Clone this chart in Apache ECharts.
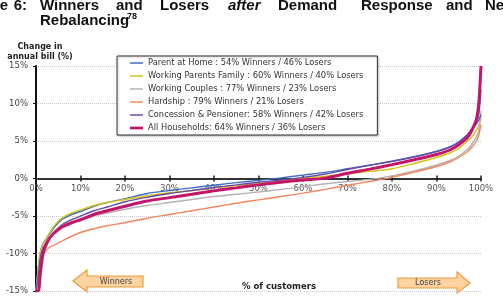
<!DOCTYPE html>
<html>
<head>
<meta charset="utf-8">
<style>
  html, body { margin: 0; padding: 0; background: #fff; }
  #chart { width: 503px; height: 297px; }
</style>
<script src="https://cdn.jsdelivr.net/npm/echarts@6/dist/echarts.min.js"></script>
</head>
<body>
<div id="chart"></div>
<script>
// % of customers (x positions of the sampled points)
const pct = [0, 0.5, 1, 1.5, 2, 3, 4, 5, 6, 8, 10, 13, 16, 20, 25, 30, 35, 40, 45, 50,
  55, 60, 65, 70, 75, 80, 85, 90, 93, 95, 97, 98, 99, 99.5, 100]

// change in annual bill (%) at each pct value
const parentAtHome = [-15, -12, -9.8, -8.8, -8.3, -7.4, -6.6, -5.9, -5.4, -4.8, -4.4, -3.7, -3.2, -2.7, -2.0, -1.6, -1.25, -0.9, -0.55, -0.25,
  0.08, 0.45, 0.82, 1.3, 1.8, 2.3, 2.9, 3.6, 4.2, 4.9, 5.9, 6.7, 7.6, 8.5, 11.9]
const workingParents = [-15, -12, -9.8, -8.9, -8.3, -7.3, -6.4, -5.7, -5.2, -4.6, -4.2, -3.6, -3.2, -2.8, -2.3, -1.9, -1.6, -1.25, -0.95, -0.65,
  -0.32, 0, 0.3, 0.62, 0.95, 1.3, 2.0, 2.8, 3.4, 4.0, 5.0, 5.6, 6.5, 7.0, 8.0]
const workingCouples = [-15, -13, -11, -9.6, -9.0, -8.0, -7.4, -7.0, -6.6, -6.0, -5.6, -5.0, -4.6, -4.1, -3.6, -3.2, -2.8, -2.4, -2.1, -1.8,
  -1.45, -1.1, -0.7, -0.4, -0.12, 0.35, 1.0, 1.8, 2.4, 3.0, 3.9, 4.6, 5.6, 6.5, 9.0]
const hardship = [-15, -13.5, -11.5, -10.3, -9.8, -9.2, -8.9, -8.6, -8.3, -7.7, -7.2, -6.7, -6.3, -5.9, -5.3, -4.8, -4.3, -3.8, -3.3, -2.85,
  -2.4, -1.95, -1.45, -0.9, -0.4, 0.15, 0.85, 1.6, 2.2, 2.8, 3.6, 4.2, 5.0, 5.8, 7.2]
const concession = [-15, -13, -10.5, -9.4, -8.8, -7.9, -7.2, -6.6, -6.1, -5.5, -5.0, -4.3, -3.8, -3.1, -2.5, -2.0, -1.6, -1.2, -0.85, -0.5,
  -0.2, 0.15, 0.6, 1.2, 1.75, 2.3, 2.9, 3.6, 4.2, 4.8, 5.8, 6.6, 7.3, 7.8, 8.5]
const allHouseholds = [-15, -15, -12.5, -10.3, -9.2, -8.0, -7.3, -6.8, -6.4, -5.9, -5.5, -4.8, -4.3, -3.7, -3.0, -2.55, -2.1, -1.65, -1.25, -0.85,
  -0.5, -0.2, 0.05, 0.7, 1.25, 1.85, 2.5, 3.2, 3.8, 4.5, 5.5, 6.5, 8.0, 10.0, 15.0]

const yTicks = [-15, -10, -5, 0, 5, 10, 15]
const xTicks = [0, 10, 20, 30, 40, 50, 60, 70, 80, 90, 100]

const seriesNames = [
  'Parent at Home : 54% Winners / 46% Losers',
  'Working Parents Family : 60% Winners / 40% Losers',
  'Working Couples : 77% Winners / 23% Losers',
  'Hardship : 79% Winners / 21% Losers',
  'Concession & Pensioner: 58% Winners / 42% Losers',
  'All Households: 64% Winners / 36% Losers'
]
const seriesValues = [parentAtHome, workingParents, workingCouples, hardship, concession, allHouseholds]
const seriesColors = ['#3d6cc4', '#d2c414', '#b4b4b4', '#f5855c', '#6a4aa8', '#c4156a']

const sans = 'DejaVu Sans'
const titleFont = 'Liberation Sans'

let myChart = echarts.init(document.getElementById('chart'))

// title line 1 is justified, so each word sits at its own x
const titleWords = [
  { t: 'Figure', x: 8, align: 'right' },
  { t: '6:', x: 27, align: 'right' },
  { t: 'Winners', x: 40 },
  { t: 'and', x: 116 },
  { t: 'Losers', x: 160 },
  { t: 'after', x: 228, italic: true },
  { t: 'Demand', x: 278 },
  { t: 'Response', x: 361 },
  { t: 'and', x: 446 },
  { t: 'Network', x: 485 }
]

let graphics = titleWords.map(w => ({
  type: 'text',
  x: w.x,
  y: 13,
  style: {
    text: w.t,
    font: (w.italic ? 'italic ' : '') + 'bold 15px "' + titleFont + '"',
    fill: '#111',
    align: w.align || 'left',
    verticalAlign: 'bottom'
  }
}))

graphics.push(
  {
    type: 'text', x: 40, y: 28,
    style: { text: 'Rebalancing', font: 'bold 15px "' + titleFont + '"', fill: '#111', verticalAlign: 'bottom' }
  },
  {
    type: 'text', x: 127, y: 21,
    style: { text: '78', font: 'bold 9px "' + titleFont + '"', fill: '#111', verticalAlign: 'bottom' }
  },
  {
    type: 'text', x: 40, y: 42,
    style: { text: 'Change in\nannual bill (%)', font: 'bold 8px "' + sans + '"', fill: '#222', align: 'center', lineHeight: 10 }
  },
  {
    type: 'text', x: 279, y: 287,
    style: { text: '% of customers', font: 'bold 8.5px "' + sans + '"', fill: '#222', align: 'center', verticalAlign: 'middle' }
  },
  // winners arrow (left)
  {
    type: 'polygon',
    shape: { points: [[73, 281], [87, 270], [87, 276], [143, 276], [143, 287], [87, 287], [87, 292]] },
    style: { fill: '#fdd3a2', stroke: '#f09a3a', lineWidth: 1.2 }
  },
  {
    type: 'text', x: 116, y: 281.5,
    style: { text: 'Winners', font: '8px "' + sans + '"', fill: '#444', align: 'center', verticalAlign: 'middle' }
  },
  // losers arrow (right)
  {
    type: 'polygon',
    shape: { points: [[470, 283], [457, 272], [457, 278], [398, 278], [398, 288], [457, 288], [457, 293]] },
    style: { fill: '#fdd3a2', stroke: '#f09a3a', lineWidth: 1.2 }
  },
  {
    type: 'text', x: 428, y: 283,
    style: { text: 'Losers', font: '8px "' + sans + '"', fill: '#444', align: 'center', verticalAlign: 'middle' }
  }
)

// x axis crosses at 0%: drawn in a flat second grid placed on the zero line
const xAxisBase = {
  type: 'value',
  gridIndex: 1,
  min: 0,
  max: 100,
  interval: 10,
  axisLine: { lineStyle: { color: '#333', width: 2 } },
  axisTick: { show: true, length: 3, lineStyle: { color: '#222', width: 1.5 } },
  splitLine: { show: false }
}

let option = {
  animation: false,
  backgroundColor: '#fff',
  grid: [
    { left: 36, right: 22, top: 66, bottom: 6 },
    { left: 36, right: 22, top: 178.5, bottom: 118.5 }
  ],
  legend: {
    data: seriesNames.map((name, i) => ({
      name: name,
      icon: i === 5 ? 'path://M0,0 L16,0 L16,3.4 L0,3.4 Z' : 'path://M0,0 L16,0 L16,1.8 L0,1.8 Z'
    })),
    orient: 'vertical',
    left: 117,
    top: 56,
    padding: [2, 14, 2, 13],
    itemWidth: 13,
    itemHeight: 10,
    itemGap: 3,
    backgroundColor: '#fff',
    borderColor: '#333',
    borderWidth: 1,
    shadowColor: 'rgba(0,0,0,0.25)',
    shadowBlur: 2,
    shadowOffsetX: 1,
    shadowOffsetY: 1,
    textStyle: { fontFamily: sans, fontSize: 8.3, color: '#333', lineHeight: 10 }
  },
  xAxis: [
    {
      type: 'value',
      gridIndex: 0,
      min: 0,
      max: 100,
      axisLine: { show: false },
      axisTick: { show: false },
      axisLabel: { show: false },
      splitLine: { show: false }
    },
    Object.assign({}, xAxisBase, {
      position: 'bottom',
      axisLabel: { margin: 6, fontFamily: sans, fontSize: 8.5, color: '#555', formatter: v => xTicks.includes(v) ? v + '%' : '' }
    }),
    Object.assign({}, xAxisBase, {
      position: 'top',
      axisLabel: { show: false }
    })
  ],
  yAxis: [
    {
      type: 'value',
      gridIndex: 0,
      min: -15,
      max: 15,
      interval: 5,
      axisLine: { show: true, onZero: false, lineStyle: { color: '#111', width: 2 } },
      axisTick: { show: true, length: 3, lineStyle: { color: '#111' } },
      axisLabel: { margin: 8, fontFamily: sans, fontSize: 8.5, color: '#444', formatter: v => yTicks.includes(v) ? v + '%' : '' },
      splitLine: { lineStyle: { color: '#c8c8c8', type: 'dotted', width: 1 } }
    },
    {
      type: 'value',
      gridIndex: 1,
      min: -1,
      max: 1,
      show: false
    }
  ],
  series: seriesNames.map((name, i) => ({
    name: name,
    type: 'line',
    xAxisIndex: 0,
    yAxisIndex: 0,
    data: pct.map((x, j) => [x, seriesValues[i][j]]),
    symbol: 'none',
    smooth: 0.3,
    color: seriesColors[i],
    lineStyle: { color: seriesColors[i], width: i === 5 ? 3 : 1.4 },
    z: 2 + i
  })),
  graphic: graphics
}

myChart.setOption(option)
</script>
</body>
</html>
